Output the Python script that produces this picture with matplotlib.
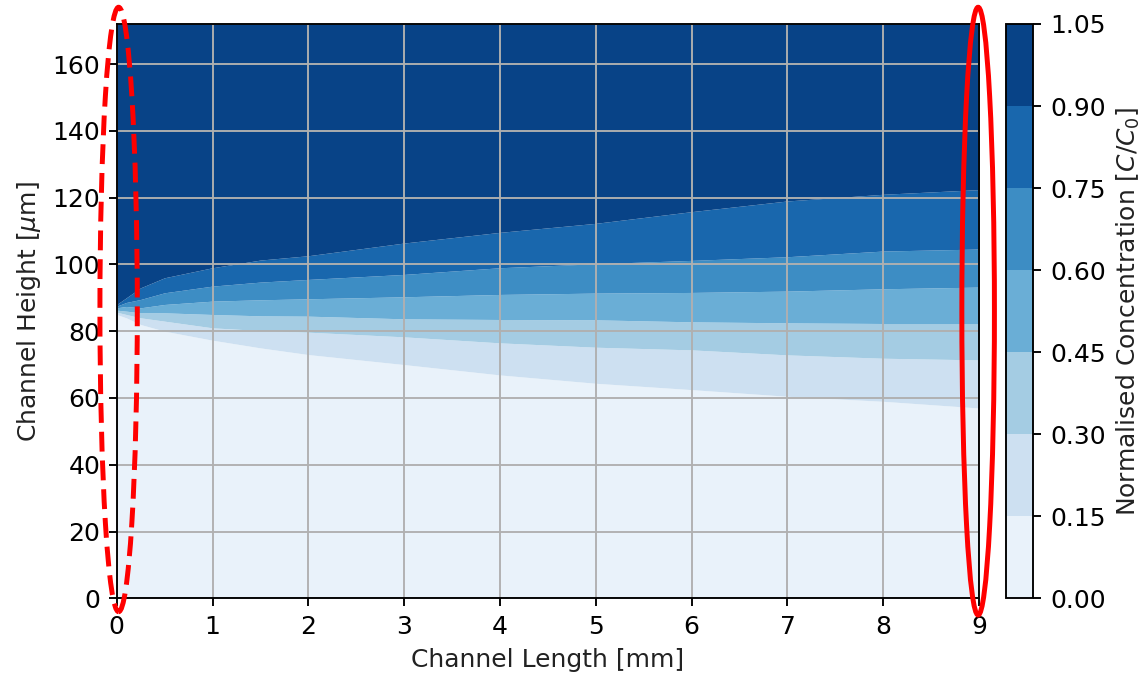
import matplotlib
matplotlib.use('Agg')
import matplotlib.pyplot as plt
import numpy as np
from matplotlib.colors import ListedColormap, BoundaryNorm, Normalize
from matplotlib.cm import ScalarMappable
from matplotlib.patches import Ellipse

plt.rcParams['font.size'] = 10.6

# concentration levels (contour bands)
levels = [0.0, 0.15, 0.30, 0.45, 0.60, 0.75, 0.90, 1.05]

# channel length positions [mm] where the band edges were read
x_mm = [0, 0.1, 0.25, 0.5, 1, 1.5, 2, 3, 4, 5, 6, 7, 8, 9]

# height [um] of each iso-concentration edge along the channel
c015 = [85.0, 84.0, 82.0, 80.0, 77.3, 75.0, 73.0, 70.0, 66.9, 64.4, 62.5, 60.5, 59.0, 57.0]
c030 = [85.7, 85.0, 84.0, 83.0, 81.0, 80.2, 79.7, 78.3, 76.5, 75.2, 74.4, 72.9, 71.9, 71.4]
c045 = [86.3, 86.0, 85.5, 85.5, 85.0, 84.6, 84.5, 83.7, 83.5, 83.4, 82.8, 82.5, 82.3, 82.3]
c060 = [87.0, 87.4, 87.0, 88.0, 89.0, 89.4, 89.7, 90.3, 91.0, 91.4, 91.6, 92.0, 92.7, 93.2]
c075 = [87.5, 88.6, 89.5, 91.5, 93.5, 94.7, 95.5, 97.0, 99.0, 100.2, 101.2, 102.3, 104.0, 104.6]
c090 = [88.0, 90.0, 93.0, 96.0, 99.0, 101.3, 102.6, 106.4, 109.6, 112.3, 115.8, 119.0, 121.0, 122.4]

channel_height = 172.0
channel_length = 9

W, H, DPI = 1143, 681, 170
fig = plt.figure(figsize=(W / DPI, H / DPI), dpi=DPI)
ax = fig.add_axes([0.1021, 0.1214, 0.7545, 0.8434])
cax = fig.add_axes([0.8805, 0.1214, 0.0236, 0.8434])

# band colours as contourf would pick them (midpoints on Blues)
mids = [(levels[i] + levels[i + 1]) / 2 for i in range(len(levels) - 1)]
nrm = Normalize(levels[0], levels[-1])
colors = [plt.cm.Blues(nrm(m)) for m in mids]

edges = [np.zeros(len(x_mm)), c015, c030, c045, c060, c075, c090,
         np.full(len(x_mm), channel_height)]
for i in range(len(edges) - 1):
    ax.fill_between(x_mm, edges[i], edges[i + 1], color=colors[i], lw=0,
                    antialiased=False)

ax.set_xlim(0, channel_length)
ax.set_ylim(0, channel_height)
ax.set_xticks(range(0, 10))
ax.set_yticks(range(0, 161, 20))
ax.grid(True, color='#b0b0b0', lw=0.8)
ax.set_xlabel('Channel Length [mm]', color='#222222')
ax.set_ylabel(r'Channel Height [$\mu$m]', color='#222222')

cmap = ListedColormap(colors)
bnorm = BoundaryNorm(levels, cmap.N)
cb = fig.colorbar(ScalarMappable(norm=bnorm, cmap=cmap), cax=cax,
                  ticks=levels, format='%.2f')
cb.set_label(r'Normalised Concentration [$C/C_0$]', color='#222222')

# red highlight ellipses at inlet and outlet
e1 = Ellipse((0.02, 86.5), 0.39, 181, fill=False, ec='red', lw=2.1,
             ls=(0, (4, 1.8)), clip_on=False, zorder=5)
e2 = Ellipse((8.99, 86.0), 0.34, 182, fill=False, ec='red', lw=2.1,
             clip_on=False, zorder=5)
ax.add_patch(e1)
ax.add_patch(e2)

fig.savefig('out.png', dpi=DPI)
